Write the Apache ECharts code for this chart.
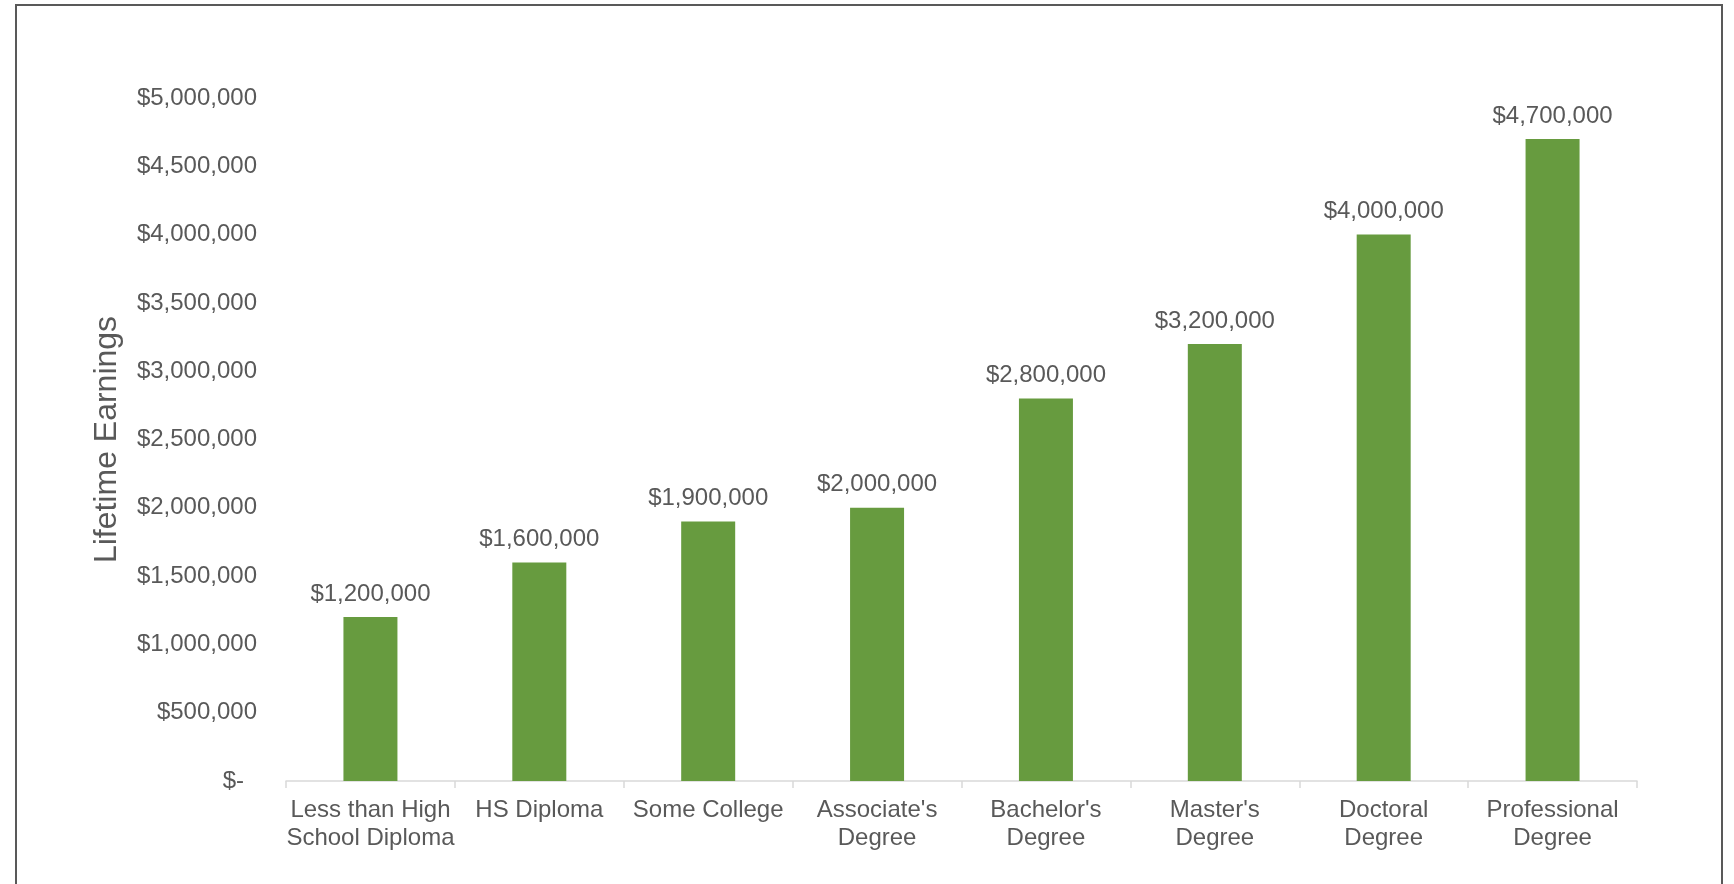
<!DOCTYPE html>
<html>
<head>
<meta charset="utf-8">
<script src="https://cdn.jsdelivr.net/npm/echarts@6/dist/echarts.min.js"></script>
<style>
html,body{margin:0;padding:0;background:#fff;}
#chart{width:1734px;height:884px;}
</style>
</head>
<body>
<div id="chart"></div>
<script>
const categories = ["Less than High\nSchool Diploma", "HS Diploma", "Some College", "Associate's\nDegree", "Bachelor's\nDegree", "Master's\nDegree", "Doctoral\nDegree", "Professional\nDegree"];
const earnings = [1200000, 1600000, 1900000, 2000000, 2800000, 3200000, 4000000, 4700000];
const yTicks = {min: 0, max: 5000000, interval: 500000};

function money(v) {
  if (v === 0) return '$-';
  return '$' + v.toLocaleString('en-US');
}

const chart = echarts.init(document.getElementById('chart'));
const font = '"Liberation Sans", Arial, sans-serif';
chart.setOption({
  backgroundColor: '#fff',
  animation: false,
  textStyle: {fontFamily: font},
  graphic: [{
    type: 'rect',
    shape: {x: 16, y: 5, width: 1706, height: 950},
    style: {fill: 'none', stroke: '#595959', lineWidth: 2},
    silent: true
  }],
  grid: {left: 286, right: 97, top: 98, bottom: 103},
  xAxis: {
    type: 'category',
    data: categories,
    axisLine: {show: true, lineStyle: {color: '#d9d9d9', width: 1.5}},
    axisTick: {show: true, alignWithLabel: false, length: 7, lineStyle: {color: '#d9d9d9', width: 1.5}},
    axisLabel: {color: '#595959', fontSize: 24, fontFamily: font, lineHeight: 28, margin: 15, interval: 0}
  },
  yAxis: {
    type: 'value',
    min: yTicks.min, max: yTicks.max, interval: yTicks.interval,
    name: 'Lifetime Earnings',
    nameLocation: 'middle',
    nameGap: 163,
    nameTextStyle: {color: '#595959', fontSize: 32, fontFamily: font},
    axisLine: {show: false},
    axisTick: {show: false},
    splitLine: {show: false},
    axisLabel: {
      color: '#595959', fontSize: 24, fontFamily: font, margin: 29,
      formatter: function (v) { return v === 0 ? '{z|$-}' : money(v); },
      rich: {z: {color: '#595959', fontSize: 24, fontFamily: font, padding: [0, 13, 0, 0]}}
    }
  },
  series: [{
    type: 'bar',
    data: earnings,
    barWidth: 54,
    itemStyle: {color: '#679b3f'},
    label: {
      show: true, position: 'top', distance: 11,
      color: '#595959', fontSize: 24, fontFamily: font,
      formatter: function (p) { return money(p.value); }
    }
  }]
});
</script>
</body>
</html>
